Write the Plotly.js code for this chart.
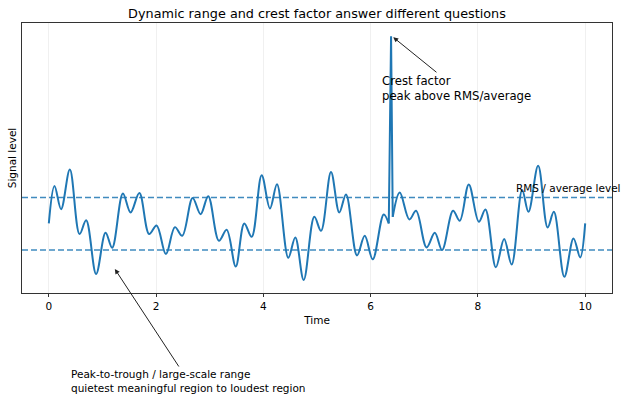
<!DOCTYPE html>
<html>
<head>
<meta charset="utf-8">
<script src="https://cdn.plot.ly/plotly-3.0.1.min.js"></script>
<style>html,body{margin:0;padding:0;background:#fff;}#chart{width:629px;height:400px;}</style>
</head>
<body>
<div id="chart"></div>
<script>
// Signal (local extrema, time vs. level)
const time = [0.000,0.106,0.229,0.392,0.573,0.696,0.882,1.058,1.181,1.381,1.524,1.688,1.871,2.009,2.183,2.351,2.487,2.681,2.830,2.972,3.172,3.315,3.485,3.644,3.782,3.968,4.123,4.254,4.465,4.595,4.752,4.950,5.075,5.261,5.416,5.541,5.746,5.890,6.039,6.244,6.338,6.381,6.412,6.543,6.722,6.847,7.043,7.196,7.332,7.537,7.662,7.830,8.017,8.140,8.334,8.489,8.629,8.825,8.942,9.123,9.300,9.416,9.612,9.782,9.907,10.000];
const level = [0.507,1.220,0.778,1.531,0.304,0.569,-0.455,0.328,0.044,1.076,0.715,1.085,0.304,0.469,-0.076,0.436,0.271,0.992,0.683,1.025,0.176,0.385,-0.313,0.507,0.252,1.423,0.791,1.252,-0.146,0.241,-0.569,0.632,0.366,1.486,0.715,1.057,-0.101,0.271,-0.176,0.677,0.507,4.066,0.632,1.095,0.583,0.746,0.051,0.328,0.000,0.746,0.556,1.247,0.537,0.772,-0.328,0.209,-0.275,1.140,0.727,1.603,0.431,0.727,-0.507,0.222,-0.139,0.507];
const spikeStart = 40, spikeEnd = 42;
const rmsLevel = 1.0;
const quietLevel = 0.0;
const xTicks = [0,2,4,6,8,10];

const blue = '#1f77b4';
const lineStyle = {color: blue, width: 2};
const traces = [
  {x: time.slice(0, spikeStart+1), y: level.slice(0, spikeStart+1), mode:'lines', line:{...lineStyle, shape:'spline', smoothing:1}, hoverinfo:'skip'},
  {x: time.slice(spikeStart, spikeEnd+1), y: level.slice(spikeStart, spikeEnd+1), mode:'lines', line:{...lineStyle, shape:'linear'}, hoverinfo:'skip'},
  {x: time.slice(spikeEnd), y: level.slice(spikeEnd), mode:'lines', line:{...lineStyle, shape:'spline', smoothing:1}, hoverinfo:'skip'}
];

const peakIdx = level.indexOf(Math.max(...level));
const font = {family:'DejaVu Sans, sans-serif', color:'#000'};

const layout = {
  width:629, height:400,
  margin:{l:22, r:17, t:22.5, b:107},
  paper_bgcolor:'#fff', plot_bgcolor:'#fff',
  showlegend:false,
  title:{text:'Dynamic range and crest factor answer different questions', font:{...font, size:12.8}, x:0.504, xanchor:'center', y:0.967, yanchor:'middle'},
  xaxis:{range:[-0.5,10.5], tickvals:xTicks, ticktext:xTicks.map(String), ticks:'outside', ticklen:3.5, tickwidth:0.8, tickcolor:'#000',
         showgrid:true, gridcolor:'#ececec', gridwidth:0.8, zeroline:false, showline:true, linecolor:'#000', linewidth:0.8, mirror:true,
         tickfont:{...font, size:10.5}, title:{text:'Time', font:{...font, size:10.5}, standoff:5}},
  yaxis:{range:[-0.816,4.317], showticklabels:false, ticks:'', showgrid:false, zeroline:false, showline:true, linecolor:'#000', linewidth:0.8, mirror:true,
         title:{text:'Signal level', font:{...font, size:10.5}, standoff:2}},
  shapes:[rmsLevel, quietLevel].map(v => ({type:'line', xref:'paper', x0:0, x1:1, yref:'y', y0:v, y1:v,
    line:{color:'rgba(31,119,180,0.85)', width:1.5, dash:'6px,3px'}})),
  annotations:[
    {x:time[peakIdx]+0.04, y:level[peakIdx]-0.02, xref:'x', yref:'y', text:'Crest factor<br>peak above RMS/average', align:'left',
     showarrow:true, arrowhead:2, arrowsize:1, arrowwidth:1, arrowcolor:'#222', ax:63, ay:51, font:{...font, size:11.7}},
    {x:1.231, y:-0.36, xref:'x', yref:'y', text:'Peak-to-trough / large-scale range<br>quietest meaningful region to loudest region', align:'left',
     showarrow:true, arrowhead:2, arrowsize:1, arrowwidth:1, arrowcolor:'#222', ax:73.5, ay:112, font:{...font, size:10.5}},
    {x:8.68, y:rmsLevel+0.176, xref:'x', yref:'y', text:'RMS / average level', showarrow:false, xanchor:'left', yanchor:'middle', font:{...font, size:10.5}}
  ]
};

Plotly.newPlot('chart', traces, layout, {staticPlot:true, displayModeBar:false});
</script>
</body>
</html>
